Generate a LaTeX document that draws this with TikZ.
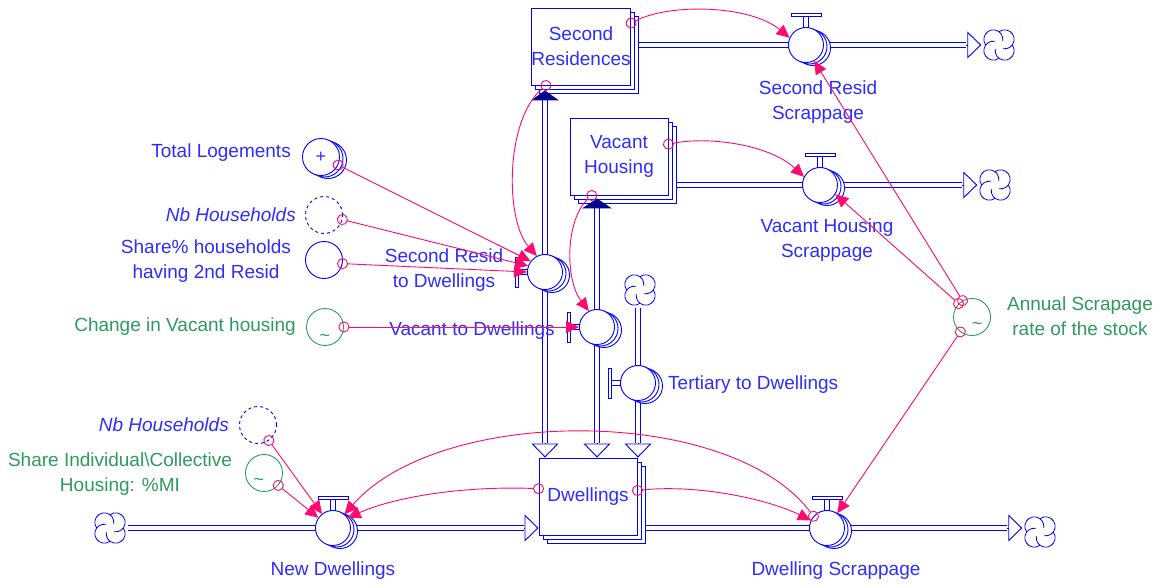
\documentclass[tikz,border=0pt]{standalone}
\usepackage{fontspec}
\setmainfont{Liberation Sans}
\usetikzlibrary{arrows.meta,backgrounds,calc,shadows}

\definecolor{pipeblue}{RGB}{0,0,255}
\definecolor{textblue}{RGB}{45,45,255}
\definecolor{linkpink}{RGB}{255,10,110}
\definecolor{auxgreen}{RGB}{45,155,95}
\definecolor{tipnavy}{RGB}{0,0,140}

\begin{document}
\begin{tikzpicture}[
    x=1pt, y=-1pt,
    font=\fontsize{19}{25}\selectfont,
    stock/.style={
        draw=pipeblue,
        fill=white,
        line width=0.9pt,
        minimum width=98pt,
        minimum height=77pt,
        inner xsep=0pt,
        align=center,
        text=textblue,
        double copy shadow={shadow xshift=4pt, shadow yshift=-4pt}
    },
    valve/.style={
        circle,
        draw=pipeblue,
        fill=white,
        line width=0.9pt,
        minimum size=35pt,
        inner sep=0pt,
        double copy shadow={shadow xshift=3.5pt, shadow yshift=-1.5pt}
    },
    auxvar/.style={
        circle,
        draw=#1,
        line width=0.9pt,
        minimum size=37pt,
        inner sep=0pt
    },
    auxvar/.default=pipeblue,
    cloudspot/.style={circle, minimum size=35pt, inner sep=0pt},
    flowlabel/.style={text=textblue, align=center, inner sep=0pt},
    auxlabel/.style={text=#1, align=center, inner sep=0pt},
    auxlabel/.default=textblue,
    signmark/.style={font=\fontsize{18}{18}\selectfont, text=#1, inner sep=0pt},
    handle/.style={draw=pipeblue, fill=white, line width=0.8pt},
    pipe/.style={draw=pipeblue, double=white, double distance=4.2pt, line width=0.9pt},
    pipetip/.style={draw=pipeblue, line width=0.9pt, -{Triangle[open, length=14pt, width=27pt]}},
    infolink/.style={draw=linkpink, line width=0.9pt, shorten <=-5.5pt,
        {Circle[open, length=11pt, width=11pt]}-{Triangle[length=13pt, width=12pt]}},
    cloudsym/.pic={
        \foreach \a in {0,90,180,270}
            \draw[pipeblue, line width=0.8pt, rotate=\a]
                (45:8pt) ++(-100:9.5pt) arc[start angle=-100, end angle=126.5, radius=9.5pt];
    }
]
\useasboundingbox (0,0) rectangle (1163,587);

% stocks
\node[stock] (secres) at (581,46.5) {Second\\Residences};
\node[stock] (vachous) at (619,156.5) {Vacant\\Housing};
\node[stock] (dwell) at (588,496.5) {Dwellings};

% valves
\node[valve] (srscrap) at (806,45) {};
\node[valve] (vhscrap) at (820,185) {};
\node[valve] (srdw) at (545,272) {};
\node[valve] (vacdw) at (597,327) {};
\node[valve] (tertdw) at (638,383) {};
\node[valve] (newdw) at (333,528) {};
\node[valve] (dwscrap) at (827,528) {};

\foreach \v in {srscrap,vhscrap,newdw,dwscrap}{
    \draw[handle] ($(\v.north)+(-2.5,0)$) rectangle ($(\v.north)+(2.5,-11)$);
    \draw[handle] ($(\v.north)+(-15,-11)$) rectangle ($(\v.north)+(15,-14)$);
}
\foreach \v in {srdw,vacdw,tertdw}{
    \draw[handle] ($(\v.west)+(0,-2.5)$) rectangle ($(\v.west)+(-9,2.5)$);
    \draw[handle] ($(\v.west)+(-9,-15)$) rectangle ($(\v.west)+(-12,15)$);
}

% clouds
\node[cloudspot] (srcloud) at (999,45) {};
\node[cloudspot] (vhcloud) at (995,185) {};
\node[cloudspot] (tertcloud) at (640,290) {};
\node[cloudspot] (newcloud) at (110,528) {};
\node[cloudspot] (dwcloud) at (1040,532) {};
\foreach \c in {srcloud,vhcloud,tertcloud,newcloud,dwcloud}
    \pic at (\c) {cloudsym};

% pipes
\begin{pgfonlayer}{background}
\draw[pipe] (secres.east |- srscrap) -- ($(srcloud.west)+(-15,0)$);
\draw[pipe] (vachous.east |- vhscrap) -- ($(vhcloud.west)+(-15,0)$);
\draw[pipe] (srdw |- secres.south) -- ($(srdw |- dwell.north)+(0,-15)$);
\draw[pipe] (vacdw |- vachous.south) -- ($(vacdw |- dwell.north)+(0,-15)$);
\draw[pipe] (tertcloud.south -| tertdw) -- ($(tertdw |- dwell.north)+(0,-15)$);
\draw[pipe] (newcloud.east) -- ($(dwell.west |- newdw)+(-15,0)$);
\draw[pipe] (dwell.east |- dwscrap) -- ($(dwcloud.west |- dwscrap)+(-15,0)$);
\end{pgfonlayer}

\draw[pipetip] ($(srcloud.west)+(-15,0)$) -- (srcloud.west);
\draw[pipetip] ($(vhcloud.west)+(-15,0)$) -- (vhcloud.west);
\draw[pipetip] ($(srdw |- dwell.north)+(0,-15)$) -- (srdw |- dwell.north);
\draw[pipetip] ($(vacdw |- dwell.north)+(0,-15)$) -- (vacdw |- dwell.north);
\draw[pipetip] ($(tertdw |- dwell.north)+(0,-15)$) -- (tertdw |- dwell.north);
\draw[pipetip] ($(dwell.west |- newdw)+(-15,0)$) -- (dwell.west |- newdw);
\draw[pipetip] ($(dwcloud.west |- dwscrap)+(-15,0)$) -- (dwcloud.west |- dwscrap);

\fill[tipnavy] ($(srdw |- secres.south)+(0,5)$) -- ++(14,10) -- ++(-28,0) -- cycle;
\fill[tipnavy] ($(vacdw |- vachous.south)+(0,3)$) -- ++(15,10) -- ++(-30,0) -- cycle;

% flow labels
\node[flowlabel] (srscrapl) at (818,102) {Second Resid\\Scrappage};
\node[flowlabel] (vhscrapl) at (827,240) {Vacant Housing\\Scrappage};
\node[flowlabel] (srdwl) at (444,270) {Second Resid\\to Dwellings};
\node[flowlabel] (vacdwl) at (472,331) {Vacant to Dwellings};
\node[flowlabel, anchor=west] (tertdwl) at (668,385) {Tertiary to Dwellings};
\node[flowlabel] (newdwl) at (333,571) {New Dwellings};
\node[flowlabel] (dwscrapl) at (836,571) {Dwelling Scrappage};

% auxiliaries
\node[auxvar, fill=white, double copy shadow={shadow xshift=3.5pt, shadow yshift=-1.5pt},
    signmark=textblue] (tlog) at (321,157) {+};
\node[auxvar, dash pattern=on 3pt off 3pt] (nbhup) at (324,215) {};
\node[auxvar] (sharesec) at (324,260) {};
\node[auxvar=auxgreen] (chvac) at (325,327) {};
\node[auxvar, dash pattern=on 3pt off 3pt] (nbhlow) at (258,425) {};
\node[auxvar=auxgreen] (shind) at (264,473) {};
\node[auxvar=auxgreen] (annual) at (972,317) {};
\node[signmark=auxgreen] (chvactil) at (325,338) {\textasciitilde};
\node[signmark=auxgreen] (shindtil) at (259,482) {\textasciitilde};
\node[signmark=auxgreen] (annualtil) at (977,326) {\textasciitilde};

\node[auxlabel, anchor=east] (tlogl) at (291,153) {Total Logements};
\node[auxlabel, anchor=east] (nbhupl) at (296,215) {\textit{Nb Households}};
\node[auxlabel] (sharesecl) at (206,261) {Share\% households\\having 2nd Resid};
\node[auxlabel=auxgreen, anchor=east] (chvacl) at (296,327) {Change in Vacant housing};
\node[auxlabel, anchor=east] (nbhlowl) at (229,425) {\textit{Nb Households}};
\node[auxlabel=auxgreen] (shindl) at (120,474) {Share Individual\textbackslash Collective\\Housing: \%MI};
\node[auxlabel=auxgreen] (annuall) at (1080,316) {Annual Scrapage\\rate of the stock};

% information links
\draw[infolink] (secres.25) .. controls (670,3) and (750,5) .. (srscrap.156);
\draw[infolink] (vachous.14) .. controls (710,136) and (770,145) .. (vhscrap.153);
\draw[infolink] (secres.228) .. controls (505,120) and (505,220) .. (srdw.117);
\draw[infolink] (vachous.235) .. controls (565,220) and (565,280) .. (vacdw.117);
\draw[infolink] (tlog.-25) -- (srdw.143);
\draw[infolink] (nbhup.-14) -- (srdw.160);
\draw[infolink] (sharesec.-11) -- (srdw.180);
\draw[infolink] (chvac.0) -- (vacdw.180);
\draw[infolink] (annual.120) -- (srscrap.-63);
\draw[infolink] (annual.135) -- (vhscrap.-31);
\draw[infolink] (annual.232) -- (dwscrap.55);
\draw[infolink] (nbhlow.-55) -- (newdw.128);
\draw[infolink] (shind.-41) -- (newdw.145);
\draw[infolink] (dwell.171) .. controls (470,486) and (400,495) .. (newdw.35);
\draw[infolink] (dwscrap.139) .. controls (730,405) and (440,405) .. (newdw.50);
\draw[infolink] (dwell.7) .. controls (700,484) and (770,500) .. (dwscrap.155);

\end{tikzpicture}
\end{document}
